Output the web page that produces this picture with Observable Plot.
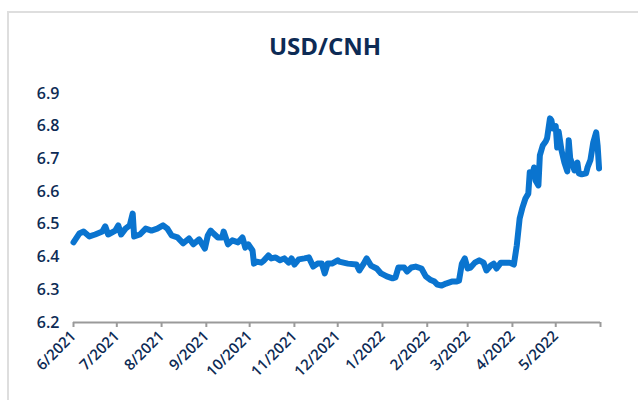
<!DOCTYPE html>
<html>
<head>
<meta charset="utf-8">
<script src="https://cdn.jsdelivr.net/npm/d3@7"></script>
<script src="https://cdn.jsdelivr.net/npm/@observablehq/plot@0.6"></script>
<style>
  html, body { margin: 0; padding: 0; background: #fff; }
  #wrap { position: relative; width: 638px; height: 400px; overflow: hidden; font-family: "Open Sans", sans-serif; }
  #frame { position: absolute; left: 7px; top: 11px; width: 700px; height: 500px; border-left: 2px solid #dedede; border-top: 2px solid #dedede; }
  #title { position: absolute; left: 0; width: 650px; top: 34px; text-align: center; font-size: 24px; line-height: 1; font-weight: 700; color: #0d2b55; }
  #chart { position: absolute; left: 0; top: 0; }
</style>
</head>
<body>
<div id="wrap">
  <div id="frame"></div>
  <div id="chart"></div>
  <div id="title">USD/CNH</div>
</div>
<script>
const dates = [
  "2021-06-01","2021-06-05","2021-06-08","2021-06-12","2021-06-16","2021-06-21","2021-06-23","2021-06-25","2021-06-30",
  "2021-07-02","2021-07-04","2021-07-07","2021-07-10","2021-07-12","2021-07-13","2021-07-17","2021-07-21","2021-07-25","2021-07-29",
  "2021-08-02","2021-08-05","2021-08-08","2021-08-12","2021-08-16","2021-08-20","2021-08-23","2021-08-27","2021-08-31",
  "2021-09-02","2021-09-04","2021-09-06","2021-09-09","2021-09-12","2021-09-13","2021-09-16","2021-09-19","2021-09-23","2021-09-26","2021-09-28","2021-09-30",
  "2021-10-03","2021-10-04","2021-10-06","2021-10-09","2021-10-11","2021-10-14","2021-10-16","2021-10-19","2021-10-22","2021-10-25","2021-10-28","2021-10-30",
  "2021-11-01","2021-11-04","2021-11-08","2021-11-11","2021-11-14","2021-11-17","2021-11-20","2021-11-22","2021-11-24","2021-11-27",
  "2021-12-01","2021-12-02","2021-12-08","2021-12-14","2021-12-16","2021-12-19","2021-12-21","2021-12-24","2021-12-28","2021-12-31",
  "2022-01-04","2022-01-08","2022-01-10","2022-01-12","2022-01-16","2022-01-18","2022-01-21","2022-01-24","2022-01-28","2022-01-31",
  "2022-02-03","2022-02-06","2022-02-08","2022-02-11","2022-02-14","2022-02-18","2022-02-21","2022-02-23","2022-02-25","2022-02-27",
  "2022-03-01","2022-03-03","2022-03-06","2022-03-09","2022-03-12","2022-03-14","2022-03-17","2022-03-19","2022-03-21","2022-03-24","2022-03-27","2022-03-30",
  "2022-04-02","2022-04-04","2022-04-06","2022-04-08","2022-04-10","2022-04-12","2022-04-13","2022-04-15","2022-04-16","2022-04-17","2022-04-19","2022-04-20","2022-04-22","2022-04-24","2022-04-25","2022-04-27","2022-04-28","2022-04-29",
  "2022-05-01","2022-05-02","2022-05-03","2022-05-05","2022-05-07","2022-05-09","2022-05-10","2022-05-11","2022-05-14","2022-05-16","2022-05-17","2022-05-19","2022-05-22","2022-05-23","2022-05-25","2022-05-27","2022-05-29","2022-05-30","2022-05-31"
];
const values = [
  6.445,6.472,6.478,6.463,6.469,6.478,6.494,6.469,6.481,
  6.497,6.469,6.487,6.497,6.533,6.463,6.469,6.487,6.481,6.487,
  6.497,6.487,6.466,6.460,6.442,6.457,6.439,6.454,6.426,
  6.466,6.481,6.472,6.460,6.460,6.478,6.439,6.451,6.445,6.460,6.429,6.439,
  6.420,6.380,6.386,6.383,6.390,6.405,6.396,6.399,6.390,6.396,6.383,6.396,
  6.377,6.393,6.396,6.399,6.371,6.380,6.380,6.350,6.380,6.380,
  6.390,6.386,6.380,6.377,6.359,6.380,6.396,6.374,6.365,6.350,
  6.341,6.335,6.338,6.368,6.368,6.356,6.368,6.371,6.365,6.341,
  6.331,6.325,6.316,6.313,6.319,6.325,6.325,6.328,6.380,6.396,
  6.365,6.368,6.383,6.390,6.383,6.359,6.374,6.380,6.365,6.383,6.383,6.383,
  6.377,6.435,6.518,6.552,6.579,6.594,6.659,6.656,6.674,6.634,6.619,6.711,6.741,6.753,6.763,6.824,6.818,6.793,
  6.800,6.735,6.784,6.726,6.689,6.662,6.757,6.702,6.665,6.689,6.656,6.653,6.656,6.674,6.696,6.751,6.781,6.741,6.671
];
const yTicks = [6.2, 6.3, 6.4, 6.5, 6.6, 6.7, 6.8, 6.9];
const xStart = "2021-06-01";
const xEnd = "2022-06-01";

const data = dates.map((d, i) => ({date: new Date(d), value: values[i]}));
const start = new Date(xStart), end = new Date(xEnd);
const xTicks = d3.utcMonth.range(start, d3.utcDay.offset(end, 1));

const navy = "#0d2b55";
const chart = Plot.plot({
  width: 638,
  height: 400,
  marginLeft: 73,
  marginRight: 38,
  marginTop: 93,
  marginBottom: 78,
  style: {fontFamily: "Open Sans, sans-serif", background: "transparent", overflow: "visible"},
  x: {type: "utc", domain: [start, end]},
  y: {domain: [6.2, 6.9]},
  marks: [
    Plot.axisY({ticks: yTicks, tickSize: 0, tickPadding: 14, tickFormat: d3.format(".1f"),
      fill: navy, fontSize: 16, fontWeight: 600, label: null}),
    Plot.ruleY([6.2], {stroke: "#9a9a9a", strokeWidth: 2}),
    Plot.axisX({ticks: xTicks, tickSize: 5, tickPadding: 6, tickRotate: -45, stroke: "#9a9a9a", strokeWidth: 2,
      strokeOpacity: 1, fill: navy, fontSize: 15, fontWeight: 600, label: null,
      tickFormat: d => d >= end ? "" : `${d.getUTCMonth() + 1}/${d.getUTCFullYear()}`}),
    Plot.lineY(data, {x: "date", y: "value", stroke: "#0a74cf", strokeWidth: 6, strokeLinejoin: "round", strokeLinecap: "round"})
  ]
});
document.getElementById("chart").appendChild(chart);
</script>
</body>
</html>
